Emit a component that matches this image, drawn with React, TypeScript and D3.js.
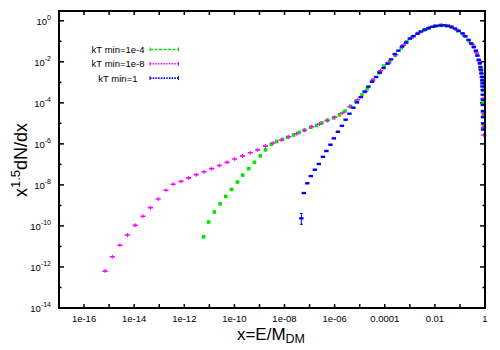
import React, { useEffect, useRef } from "react";
import * as d3 from "d3";

// values (x = E/M_DM, y = x^1.5 dN/dx)
const seriesNames = ["kT min=1e-4", "kT min=1e-8", "kT min=1"];
const seriesColors = ["#00e600", "#ff00ff", "#0000ff"];

const ktMin1e4 = [
  [5.9e-12, 2.95e-11], [9.3e-12, 1.55e-10], [1.58e-11, 4.8e-10], [2.7e-11, 1.2e-9],
  [4.5e-11, 2.75e-9], [7.6e-11, 6.0e-9], [1.32e-10, 1.38e-8], [2.14e-10, 3.0e-8],
  [3.7e-10, 6.2e-8], [6.3e-10, 1.26e-7], [1.07e-9, 2.6e-7], [1.74e-9, 5.1e-7],
  [2.95e-9, 9.5e-7], [4.9e-9, 1.32e-6], [8.3e-9, 1.66e-6], [1.35e-8, 2.1e-6],
  [2.3e-8, 2.7e-6], [3.8e-8, 3.6e-6], [6.3e-8, 4.7e-6], [1.1e-7, 6.5e-6],
  [1.9e-7, 7.9e-6], [3.1e-7, 1.05e-5], [5.2e-7, 1.41e-5], [9.1e-7, 1.86e-5],
  [1.55e-6, 2.6e-5], [2.6e-6, 4.0e-5], [4.3e-6, 6.8e-5], [7.1e-6, 1.17e-4],
  [1.23e-5, 2.45e-4], [2.0e-5, 4.9e-4], [3.4e-5, 1.29e-3], [5.8e-5, 2.95e-3],
  [9.3e-5, 6.2e-3], [1.58e-4, 0.01], [2.6e-4, 0.0205], [4.5e-4, 0.048],
  [7.6e-4, 0.095], [1.26e-3, 0.162], [2.14e-3, 0.245], [3.6e-3, 0.35],
  [6.0e-3, 0.45], [0.0102, 0.55], [0.0174, 0.6], [0.029, 0.575],
  [0.049, 0.49], [0.083, 0.33], [0.138, 0.21], [0.234, 0.107],
  [0.355, 0.056], [0.49, 0.0224], [0.62, 8.5e-3], [0.71, 3.2e-3],
  [0.78, 1.26e-3], [0.81, 4.0e-4], [0.83, 1.0e-4], [0.85, 2.5e-5], [0.86, 7.9e-6],
];

const ktMin1e8 = [
  [6.9e-16, 6.3e-13], [1.35e-15, 3.16e-12], [2.7e-15, 1.15e-11], [5.4e-15, 3.6e-11],
  [1.1e-14, 1.07e-10], [2.24e-14, 2.95e-10], [4.5e-14, 7.8e-10], [9.1e-14, 2.04e-9],
  [1.86e-13, 5.5e-9], [3.6e-13, 1.07e-8], [7.4e-13, 1.48e-8], [1.48e-12, 2.2e-8],
  [3.0e-12, 3.16e-8], [6.2e-12, 4.4e-8], [1.23e-11, 6.2e-8], [2.5e-11, 8.9e-8],
  [5.1e-11, 1.26e-7], [1.02e-10, 1.82e-7], [2.1e-10, 2.6e-7], [4.3e-10, 3.7e-7],
  [8.5e-10, 5.1e-7], [1.74e-9, 7.8e-7], [3.5e-9, 1.1e-6], [7.4e-9, 1.55e-6],
  [1.48e-8, 2.24e-6], [3.0e-8, 3.1e-6], [6.2e-8, 4.6e-6], [1.23e-7, 6.8e-6],
  [2.5e-7, 9.3e-6], [5.0e-7, 1.38e-5], [1.02e-6, 2.0e-5], [2.04e-6, 3.2e-5],
  [4.1e-6, 6.5e-5], [8.3e-6, 1.41e-4], [1.66e-5, 3.6e-4], [3.4e-5, 1.29e-3],
  [6.8e-5, 3.7e-3], [1.38e-4, 9.1e-3], [2.75e-4, 0.022], [5.6e-4, 0.065],
  [1.12e-3, 0.15], [2.3e-3, 0.26], [4.6e-3, 0.39], [9.3e-3, 0.54],
  [0.0186, 0.6], [0.038, 0.55], [0.076, 0.35], [0.155, 0.186],
  [0.31, 0.071], [0.45, 0.028], [0.575, 0.0112], [0.68, 4.5e-3],
  [0.76, 1.78e-3], [0.81, 6.3e-4], [0.83, 1.6e-4], [0.85, 3.2e-5],
  [0.87, 6.3e-6], [0.885, 2.7e-6],
];

const ktMin1 = [
  [4.7e-8, 2.35e-10], [5.9e-8, 4.0e-9], [8.1e-8, 1.2e-8], [1.12e-7, 2.7e-8],
  [1.62e-7, 5.5e-8], [2.34e-7, 1.05e-7], [3.4e-7, 2.34e-7], [4.7e-7, 4.5e-7],
  [6.8e-7, 9.1e-7], [9.3e-7, 1.86e-6], [1.35e-6, 3.9e-6], [1.95e-6, 7.6e-6],
  [2.75e-6, 1.51e-5], [3.9e-6, 2.95e-5], [5.6e-6, 5.8e-5], [7.8e-6, 1.05e-4],
  [1.1e-5, 1.9e-4], [1.58e-5, 3.5e-4], [2.24e-5, 6.2e-4], [3.1e-5, 1.07e-3],
  [4.5e-5, 1.82e-3], [6.3e-5, 2.95e-3], [8.9e-5, 5.0e-3], [1.29e-4, 8.1e-3],
  [1.78e-4, 0.0132], [2.5e-4, 0.024], [3.5e-4, 0.035], [5.0e-4, 0.056],
  [7.1e-4, 0.087], [1.0e-3, 0.135], [1.41e-3, 0.18], [2.0e-3, 0.234],
  [2.8e-3, 0.3], [4.0e-3, 0.37], [5.6e-3, 0.44], [7.9e-3, 0.51],
  [0.0112, 0.56], [0.0158, 0.59], [0.0224, 0.6], [0.0316, 0.56],
  [0.0447, 0.5], [0.063, 0.42], [0.089, 0.32], [0.126, 0.245],
  [0.166, 0.174], [0.219, 0.117], [0.28, 0.079], [0.355, 0.052],
  [0.43, 0.035], [0.5, 0.02], [0.56, 0.0126], [0.62, 8.5e-3],
  [0.66, 5.6e-3], [0.69, 4.0e-3], [0.72, 2.7e-3], [0.76, 1.86e-3],
  [0.78, 1.26e-3], [0.79, 8.9e-4], [0.8, 6.3e-4], [0.81, 4.2e-4],
  [0.815, 2.5e-4], [0.82, 1.41e-4], [0.82, 7.9e-5], [0.83, 4.0e-5],
  [0.83, 2.0e-5], [0.835, 1.0e-5], [0.84, 5.0e-6],
];

// the one visible error bar (lowest kT min=1 point)
const ktMin1Err = [[4.7e-8, 1.2e-10, 4.1e-10]];

const xTickValues = [1e-16, 1e-14, 1e-12, 1e-10, 1e-8, 1e-6, 1e-4, 1e-2, 1];
const xTickLabels = ["1e-16", "1e-14", "1e-12", "1e-10", "1e-08", "1e-06", "0.0001", "0.01", "1"];
const yTickExps = [0, -2, -4, -6, -8, -10, -12, -14];

const App = () => {
  const ref = useRef(null);

  useEffect(() => {
    const width = 500;
    const height = 350;
    const margin = { top: 11, right: 15, bottom: 42, left: 59 };
    const font = "Liberation Sans, Arial, sans-serif";

    const svg = d3.select(ref.current).attr("width", width).attr("height", height);
    svg.selectAll("*").remove();

    const x = d3.scaleLog().domain([1e-17, 1]).range([margin.left, width - margin.right]);
    const y = d3.scaleLog().domain([1e-14, 3]).range([height - margin.bottom, margin.top]);
    const [x0, x1] = x.range();
    const [y0, y1] = y.range();

    // ticks: every decade on x, major/minor on y, mirrored
    const ticks = svg.append("g").attr("stroke", "black").attr("stroke-width", 1.5);
    d3.range(-16, 0).forEach((e) => {
      const px = x(Math.pow(10, e));
      ticks.append("line").attr("x1", px).attr("x2", px).attr("y1", y0).attr("y2", y0 - 4);
      ticks.append("line").attr("x1", px).attr("x2", px).attr("y1", y1).attr("y2", y1 + 4);
    });
    d3.range(-13, 1).forEach((e) => {
      const py = y(Math.pow(10, e));
      const len = e % 2 === 0 ? 5 : 2.5;
      ticks.append("line").attr("x1", x0).attr("x2", x0 + len).attr("y1", py).attr("y2", py);
      ticks.append("line").attr("x1", x1).attr("x2", x1 - len).attr("y1", py).attr("y2", py);
    });

    // tick labels
    svg.append("g")
      .selectAll("text")
      .data(xTickValues)
      .join("text")
      .attr("x", (d) => x(d))
      .attr("y", y0 + 14)
      .attr("text-anchor", "middle")
      .attr("font-family", font)
      .attr("font-size", 9.5)
      .text((d, i) => xTickLabels[i]);

    const yl = svg.append("g")
      .selectAll("text")
      .data(yTickExps)
      .join("text")
      .attr("x", 51)
      .attr("y", (d) => y(Math.pow(10, d)) + 4)
      .attr("text-anchor", "end")
      .attr("font-family", font)
      .attr("font-size", 9.5);
    yl.append("tspan").text("10");
    yl.append("tspan").attr("dy", -5).attr("font-size", 7).text((d) => d);

    // series markers
    const series = [ktMin1e4, ktMin1e8, ktMin1];
    const plot = svg.append("g");
    plot.append("g")
      .attr("stroke", seriesColors[2])
      .attr("stroke-width", 1)
      .selectAll("path")
      .data(ktMin1Err)
      .join("path")
      .attr("d", (d) => {
        const px = x(d[0]);
        return `M${px},${y(d[1])}V${y(d[2])}M${px - 1.5},${y(d[1])}H${px + 1.5}M${px - 1.5},${y(d[2])}H${px + 1.5}`;
      });

    series.forEach((data, i) => {
      const g = plot.append("g").attr("fill", seriesColors[i]);
      if (i === 0) {
        g.selectAll("rect").data(data).join("rect")
          .attr("x", (d) => x(d[0]) - 1.8).attr("y", (d) => y(d[1]) - 1.8)
          .attr("width", 3.6).attr("height", 3.6);
      } else if (i === 1) {
        g.selectAll("path").data(data).join("path")
          .attr("d", (d) => {
            const px = x(d[0]);
            const py = y(d[1]);
            return `M${px - 2.5},${py - 0.8}h5v1.6h-5zM${px - 0.5},${py - 2}h1v4h-1z`;
          });
      } else {
        g.selectAll("rect").data(data).join("rect")
          .attr("x", (d) => x(d[0]) - 2.2).attr("y", (d) => y(d[1]) - 1.2)
          .attr("width", 4.4).attr("height", 2.4);
      }
    });

    // frame
    svg.append("rect")
      .attr("x", x0).attr("y", y1)
      .attr("width", x1 - x0).attr("height", y0 - y1)
      .attr("fill", "none").attr("stroke", "black").attr("stroke-width", 2);

    // legend
    const maxLen = d3.max(seriesNames, (d) => d.length);
    const legend = svg.append("g");
    seriesNames.forEach((name, i) => {
      const ly = 49.5 + i * 14.3;
      legend.append("text")
        .attr("x", 144.5 - (maxLen - name.length) * 2.33)
        .attr("y", ly + 3.5)
        .attr("text-anchor", "end")
        .attr("font-family", font)
        .attr("font-size", 9.5)
        .text(name);
      legend.append("line")
        .attr("x1", 150).attr("x2", 178.5).attr("y1", ly).attr("y2", ly)
        .attr("stroke", seriesColors[i]).attr("stroke-width", 1.6)
        .attr("stroke-dasharray", i === 0 ? "3,1.5" : "1.5,1.2");
      [150, 178.5].forEach((cx) => {
        legend.append("line")
          .attr("x1", cx).attr("x2", cx).attr("y1", ly - 2).attr("y2", ly + 2)
          .attr("stroke", seriesColors[i]).attr("stroke-width", 1);
      });
    });

    // axis labels
    const xl = svg.append("text")
      .attr("x", 271).attr("y", 339.5)
      .attr("text-anchor", "middle")
      .attr("font-family", font)
      .attr("font-size", 17);
    xl.append("tspan").text("x=E/M");
    xl.append("tspan").attr("dy", 3.5).attr("font-size", 12.5).text("DM");

    const ylab = svg.append("text")
      .attr("transform", "translate(27,160) rotate(-90)")
      .attr("text-anchor", "middle")
      .attr("font-family", font)
      .attr("font-size", 18);
    ylab.append("tspan").text("x");
    ylab.append("tspan").attr("dy", -7).attr("font-size", 13).text("1.5");
    ylab.append("tspan").attr("dy", 7).text("dN/dx");
  }, []);

  return (
    <svg ref={ref} style={{ position: "absolute", left: 0, top: 0, background: "white" }}></svg>
  );
};

export default App;
